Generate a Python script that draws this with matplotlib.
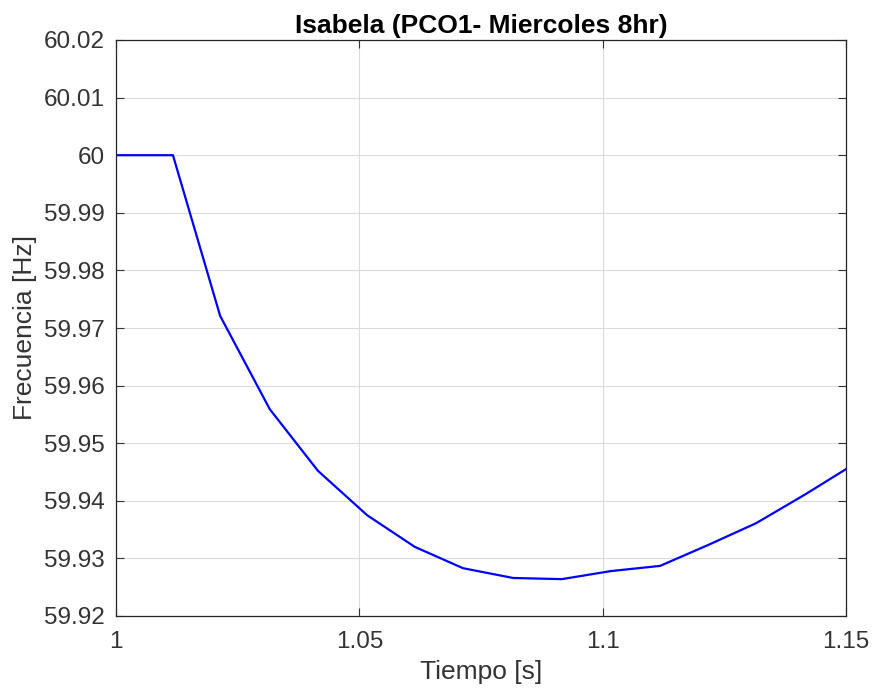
import numpy as np
import matplotlib
matplotlib.use("Agg")
import matplotlib.pyplot as plt
from matplotlib.ticker import FuncFormatter

plt.rcParams['font.family'] = ['Liberation Sans', 'DejaVu Sans']

# datos
tiempo = [1.0, 1.0117, 1.0214, 1.0316, 1.0415, 1.0516, 1.0614, 1.0713,
          1.0816, 1.0916, 1.1017, 1.1118, 1.1216, 1.1315, 1.1416, 1.15]
frecuencia = [60.0, 60.0, 59.9721, 59.9559, 59.9452, 59.9375, 59.9320, 59.9283,
              59.9266, 59.9264, 59.9278, 59.9287, 59.9323, 59.9361, 59.9411, 59.9455]
xticks = [1.0, 1.05, 1.1, 1.15]
yticks = [59.92, 59.93, 59.94, 59.95, 59.96, 59.97, 59.98, 59.99, 60.0, 60.01, 60.02]

fig = plt.figure(figsize=(8.74, 6.88), dpi=100)
ax = fig.add_axes([116/874, 1-616/688, 730/874, 576/688])
ax.plot(tiempo, frecuencia, color=(0, 0, 1), lw=1.6)

ax.set_xlim(1.0, 1.15)
ax.set_ylim(59.92, 60.02)
ax.set_xticks(xticks)
ax.set_yticks(yticks)
fmt = FuncFormatter(lambda v, p: ('%.2f' % v).rstrip('0').rstrip('.'))
ax.xaxis.set_major_formatter(fmt)
ax.yaxis.set_major_formatter(fmt)
ax.grid(True, color='#dcdcdc', lw=0.8)
ax.set_axisbelow(True)
ax.tick_params(direction='in', length=6, width=0.8, colors='#333333',
               labelsize=17.5, top=True, right=True, pad=8)
ax.tick_params(axis='x', pad=11)
for s in ax.spines.values():
    s.set_color('#262626')
    s.set_linewidth(0.9)

ax.set_xlabel('Tiempo [s]', fontsize=19, color='#333333', labelpad=5)
ax.set_ylabel('Frecuencia [Hz]', fontsize=19, color='#333333', labelpad=5)
ax.set_title('Isabela (PCO1- Miercoles 8hr)', fontsize=19, fontweight='bold', pad=5)

fig.savefig('out.png', dpi=100)
